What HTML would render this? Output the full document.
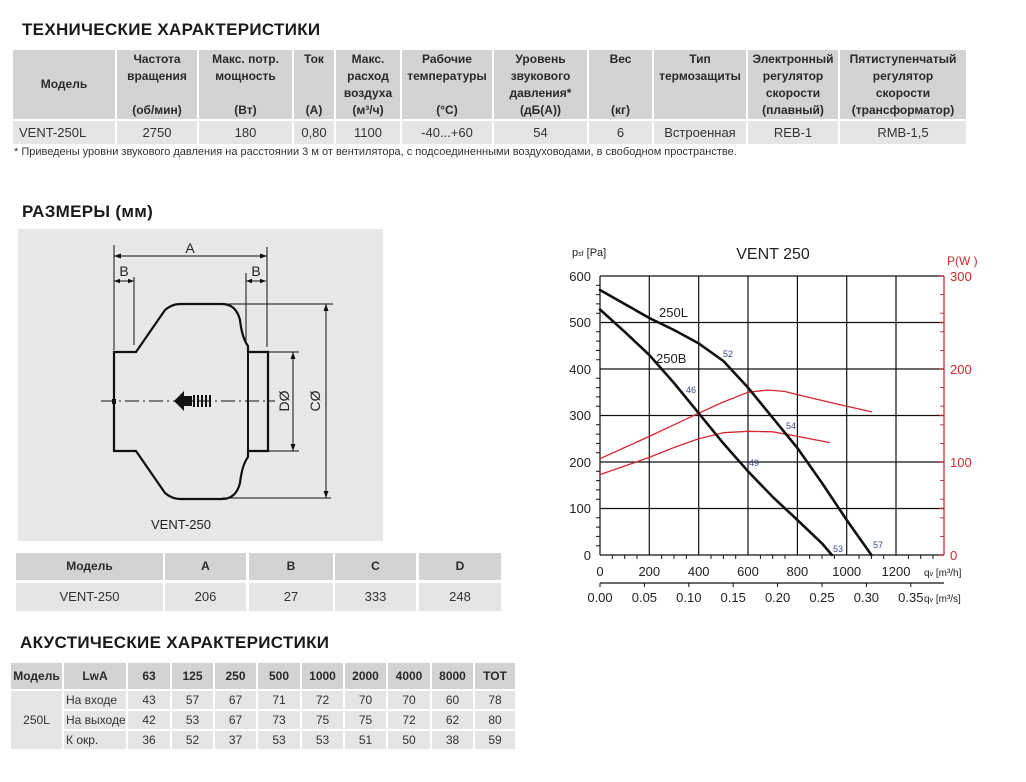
<!DOCTYPE html>
<html><head><meta charset="utf-8">
<style>
body{margin:0;width:1026px;height:782px;background:#fff;position:relative;overflow:hidden;font-family:"Liberation Sans","DejaVu Sans",sans-serif;color:#222}
.a{position:absolute;box-sizing:border-box}
.h{background:#d3d3d3;font-weight:bold;font-size:12px;text-align:center;line-height:17px;color:#2a2a2a}
.r{background:#e5e5e5;font-size:13px;text-align:center;color:#333}
.t{font-weight:bold;font-size:17px;color:#1a1a1a;letter-spacing:0.3px}
</style></head><body>
<div class="a t" style="left:22px;top:20px">ТЕХНИЧЕСКИЕ ХАРАКТЕРИСТИКИ</div>

<!-- top table -->
<div class="a h" style="left:13px;top:50px;width:102px;height:69px;line-height:69px">Модель</div>
<div class="a h" style="left:117px;top:50px;width:80px;height:69px;padding-top:1px">Частота<br>вращения<br>&nbsp;<br>(об/мин)</div>
<div class="a h" style="left:199px;top:50px;width:93px;height:69px;padding-top:1px">Макс. потр.<br>мощность<br>&nbsp;<br>(Вт)</div>
<div class="a h" style="left:294px;top:50px;width:40px;height:69px;padding-top:1px">Ток<br>&nbsp;<br>&nbsp;<br>(А)</div>
<div class="a h" style="left:336px;top:50px;width:64px;height:69px;padding-top:1px">Макс.<br>расход<br>воздуха<br>(м³/ч)</div>
<div class="a h" style="left:402px;top:50px;width:90px;height:69px;padding-top:1px">Рабочие<br>температуры<br>&nbsp;<br>(°С)</div>
<div class="a h" style="left:494px;top:50px;width:93px;height:69px;padding-top:1px">Уровень<br>звукового<br>давления*<br>(дБ(А))</div>
<div class="a h" style="left:589px;top:50px;width:63px;height:69px;padding-top:1px">Вес<br>&nbsp;<br>&nbsp;<br>(кг)</div>
<div class="a h" style="left:654px;top:50px;width:92px;height:69px;padding-top:1px">Тип<br>термозащиты<br>&nbsp;<br>&nbsp;</div>
<div class="a h" style="left:748px;top:50px;width:90px;height:69px;padding-top:1px">Электронный<br>регулятор<br>скорости<br>(плавный)</div>
<div class="a h" style="left:840px;top:50px;width:126px;height:69px;padding-top:1px">Пятиступенчатый<br>регулятор<br>скорости<br>(трансформатор)</div>

<div class="a r" style="left:13px;top:121px;width:102px;height:23px;line-height:23px;text-align:left;padding-left:6px">VENT-250L</div>
<div class="a r" style="left:117px;top:121px;width:80px;height:23px;line-height:23px">2750</div>
<div class="a r" style="left:199px;top:121px;width:93px;height:23px;line-height:23px">180</div>
<div class="a r" style="left:294px;top:121px;width:40px;height:23px;line-height:23px">0,80</div>
<div class="a r" style="left:336px;top:121px;width:64px;height:23px;line-height:23px">1100</div>
<div class="a r" style="left:402px;top:121px;width:90px;height:23px;line-height:23px">-40...+60</div>
<div class="a r" style="left:494px;top:121px;width:93px;height:23px;line-height:23px">54</div>
<div class="a r" style="left:589px;top:121px;width:63px;height:23px;line-height:23px">6</div>
<div class="a r" style="left:654px;top:121px;width:92px;height:23px;line-height:23px">Встроенная</div>
<div class="a r" style="left:748px;top:121px;width:90px;height:23px;line-height:23px">REB-1</div>
<div class="a r" style="left:840px;top:121px;width:126px;height:23px;line-height:23px">RMB-1,5</div>
<div class="a" style="left:14px;top:146px;font-size:11px;color:#333">* Приведены уровни звукового давления на расстоянии 3 м от вентилятора, с подсоединенными воздуховодами, в свободном пространстве.</div>

<div class="a t" style="left:22px;top:202px">РАЗМЕРЫ (мм)</div>

<!-- drawing -->
<div class="a" style="left:18px;top:229px;width:365px;height:312px;background:#e8e8e8"></div>
<svg class="a" style="left:0;top:0" width="400" height="545" viewBox="0 0 400 545">
<g fill="none" stroke="#111" stroke-width="1">
<path d="M114,352 H136 L165,310 Q172,304 180,304 H222 Q236,304 240,320 Q242,338 248,346 V352 H268 V451 H248 V457 Q242,465 240,483 Q236,499 222,499 H180 Q172,499 165,493 L136,451 H114 Z" stroke-width="2.2"/>
<line x1="248" y1="352" x2="248" y2="451" stroke-width="2"/>
<line x1="114" y1="245" x2="114" y2="350"/>
<line x1="267" y1="247" x2="267" y2="347"/>
<line x1="134" y1="277" x2="134" y2="345"/>
<line x1="246" y1="273" x2="246" y2="342"/>
<line x1="114" y1="256" x2="267" y2="256"/>
<line x1="114" y1="281" x2="134" y2="281"/>
<line x1="246" y1="281" x2="266" y2="281"/>
<line x1="222" y1="304" x2="333" y2="304"/>
<line x1="222" y1="498" x2="331" y2="498"/>
<line x1="326" y1="304" x2="326" y2="498"/>
<line x1="268" y1="352" x2="299" y2="352"/>
<line x1="268" y1="451" x2="299" y2="451"/>
<line x1="293" y1="352" x2="293" y2="451"/>
<line x1="101" y1="401" x2="275" y2="401" stroke-dasharray="14,4,2,4"/>
</g>
<g fill="#111">
<path d="M114,256 l7,-2.5 v5z M267,256 l-7,-2.5 v5z M114,281 l6,-2.2 v4.4z M134,281 l-6,-2.2 v4.4z M246,281 l6,-2.2 v4.4z M266,281 l-6,-2.2 v4.4z M326,304 l-2.5,7 h5z M326,498 l-2.5,-7 h5z M293,352 l-2.5,7 h5z M293,451 l-2.5,-7 h5z"/>
<path d="M174,401 L184,391 V396 H192 V406 H184 V411 Z"/>
<rect x="193" y="395" width="2" height="12"/><rect x="197" y="395" width="2" height="12"/><rect x="201" y="395" width="2" height="12"/><rect x="205" y="395" width="2" height="12"/><rect x="209" y="395" width="2" height="12"/>
<rect x="112" y="399" width="4" height="5"/>
</g>
<g font-family="Liberation Sans,sans-serif" font-size="14" fill="#222" text-anchor="middle">
<text x="190" y="253">A</text><text x="124" y="276">B</text><text x="256" y="276">B</text>
<text transform="translate(289,401) rotate(-90)">DØ</text>
<text transform="translate(320,401) rotate(-90)">CØ</text>
<text x="181" y="529" font-size="13">VENT-250</text>
</g>
</svg>

<!-- dim table -->
<div class="a h" style="left:16px;top:553px;width:147px;height:27px;line-height:27px">Модель</div>
<div class="a h" style="left:165px;top:553px;width:81px;height:27px;line-height:27px">A</div>
<div class="a h" style="left:249px;top:553px;width:84px;height:27px;line-height:27px">B</div>
<div class="a h" style="left:335px;top:553px;width:81px;height:27px;line-height:27px">C</div>
<div class="a h" style="left:419px;top:553px;width:82px;height:27px;line-height:27px">D</div>
<div class="a r" style="left:16px;top:583px;width:147px;height:28px;line-height:28px">VENT-250</div>
<div class="a r" style="left:165px;top:583px;width:81px;height:28px;line-height:28px">206</div>
<div class="a r" style="left:249px;top:583px;width:84px;height:28px;line-height:28px">27</div>
<div class="a r" style="left:335px;top:583px;width:81px;height:28px;line-height:28px">333</div>
<div class="a r" style="left:419px;top:583px;width:82px;height:28px;line-height:28px">248</div>

<div class="a t" style="left:20px;top:633px">АКУСТИЧЕСКИЕ ХАРАКТЕРИСТИКИ</div>
<!-- acoustic table -->
<div class="a h" style="left:11px;top:663px;width:51px;height:26px;line-height:26px">Модель</div>
<div class="a h" style="left:64px;top:663px;width:62px;height:26px;line-height:26px">LwA</div>
<div class="a h" style="left:128px;top:663px;width:42px;height:26px;line-height:26px">63</div>
<div class="a h" style="left:172px;top:663px;width:41px;height:26px;line-height:26px">125</div>
<div class="a h" style="left:215px;top:663px;width:41px;height:26px;line-height:26px">250</div>
<div class="a h" style="left:258px;top:663px;width:42px;height:26px;line-height:26px">500</div>
<div class="a h" style="left:302px;top:663px;width:41px;height:26px;line-height:26px">1000</div>
<div class="a h" style="left:345px;top:663px;width:41px;height:26px;line-height:26px">2000</div>
<div class="a h" style="left:388px;top:663px;width:42px;height:26px;line-height:26px">4000</div>
<div class="a h" style="left:432px;top:663px;width:41px;height:26px;line-height:26px">8000</div>
<div class="a h" style="left:475px;top:663px;width:40px;height:26px;line-height:26px">TOT</div>
<div class="a r" style="left:11px;top:691px;width:51px;height:58px;line-height:58px;font-size:12px">250L</div>

<div class="a r" style="left:64px;top:691px;width:62px;height:18px;line-height:18px;font-size:12px;text-align:left;padding-left:2px">На входе</div>
<div class="a r" style="left:64px;top:711px;width:62px;height:18px;line-height:18px;font-size:12px;text-align:left;padding-left:2px">На выходе</div>
<div class="a r" style="left:64px;top:731px;width:62px;height:18px;line-height:18px;font-size:12px;text-align:left;padding-left:2px">К окр.</div>

<div id="ac"></div>
<div class="a r" style="left:128px;top:691px;width:42px;height:18px;line-height:18px;font-size:12px">43</div>
<div class="a r" style="left:172px;top:691px;width:41px;height:18px;line-height:18px;font-size:12px">57</div>
<div class="a r" style="left:215px;top:691px;width:41px;height:18px;line-height:18px;font-size:12px">67</div>
<div class="a r" style="left:258px;top:691px;width:42px;height:18px;line-height:18px;font-size:12px">71</div>
<div class="a r" style="left:302px;top:691px;width:41px;height:18px;line-height:18px;font-size:12px">72</div>
<div class="a r" style="left:345px;top:691px;width:41px;height:18px;line-height:18px;font-size:12px">70</div>
<div class="a r" style="left:388px;top:691px;width:42px;height:18px;line-height:18px;font-size:12px">70</div>
<div class="a r" style="left:432px;top:691px;width:41px;height:18px;line-height:18px;font-size:12px">60</div>
<div class="a r" style="left:475px;top:691px;width:40px;height:18px;line-height:18px;font-size:12px">78</div>
<div class="a r" style="left:128px;top:711px;width:42px;height:18px;line-height:18px;font-size:12px">42</div>
<div class="a r" style="left:172px;top:711px;width:41px;height:18px;line-height:18px;font-size:12px">53</div>
<div class="a r" style="left:215px;top:711px;width:41px;height:18px;line-height:18px;font-size:12px">67</div>
<div class="a r" style="left:258px;top:711px;width:42px;height:18px;line-height:18px;font-size:12px">73</div>
<div class="a r" style="left:302px;top:711px;width:41px;height:18px;line-height:18px;font-size:12px">75</div>
<div class="a r" style="left:345px;top:711px;width:41px;height:18px;line-height:18px;font-size:12px">75</div>
<div class="a r" style="left:388px;top:711px;width:42px;height:18px;line-height:18px;font-size:12px">72</div>
<div class="a r" style="left:432px;top:711px;width:41px;height:18px;line-height:18px;font-size:12px">62</div>
<div class="a r" style="left:475px;top:711px;width:40px;height:18px;line-height:18px;font-size:12px">80</div>
<div class="a r" style="left:128px;top:731px;width:42px;height:18px;line-height:18px;font-size:12px">36</div>
<div class="a r" style="left:172px;top:731px;width:41px;height:18px;line-height:18px;font-size:12px">52</div>
<div class="a r" style="left:215px;top:731px;width:41px;height:18px;line-height:18px;font-size:12px">37</div>
<div class="a r" style="left:258px;top:731px;width:42px;height:18px;line-height:18px;font-size:12px">53</div>
<div class="a r" style="left:302px;top:731px;width:41px;height:18px;line-height:18px;font-size:12px">53</div>
<div class="a r" style="left:345px;top:731px;width:41px;height:18px;line-height:18px;font-size:12px">51</div>
<div class="a r" style="left:388px;top:731px;width:42px;height:18px;line-height:18px;font-size:12px">50</div>
<div class="a r" style="left:432px;top:731px;width:41px;height:18px;line-height:18px;font-size:12px">38</div>
<div class="a r" style="left:475px;top:731px;width:40px;height:18px;line-height:18px;font-size:12px">59</div>

<!-- chart -->
<svg class="a" style="left:540px;top:230px" width="460" height="390" viewBox="540 230 460 390" font-family="Liberation Sans,sans-serif">
<g stroke="#111" stroke-width="1.2">
<line x1="600" y1="276" x2="944" y2="276"/><line x1="600" y1="322.5" x2="944" y2="322.5"/>
<line x1="600" y1="369" x2="944" y2="369"/><line x1="600" y1="415.5" x2="944" y2="415.5"/>
<line x1="600" y1="462" x2="944" y2="462"/><line x1="600" y1="508.5" x2="944" y2="508.5"/>
<line x1="600" y1="555" x2="944" y2="555"/>
<line x1="600" y1="276" x2="600" y2="555"/><line x1="649.3" y1="276" x2="649.3" y2="555"/>
<line x1="698.7" y1="276" x2="698.7" y2="555"/><line x1="748" y1="276" x2="748" y2="555"/>
<line x1="797.4" y1="276" x2="797.4" y2="555"/><line x1="846.7" y1="276" x2="846.7" y2="555"/>
<line x1="896" y1="276" x2="896" y2="555"/>
<line x1="600" y1="583" x2="944" y2="583"/>
</g>
<g stroke="#111" stroke-width="1">
<path d="M596,285.3h4M596,294.6h4M596,303.9h4M596,313.2h4M596,331.8h4M596,341.1h4M596,350.4h4M596,359.7h4M596,378.3h4M596,387.6h4M596,396.9h4M596,406.2h4M596,424.8h4M596,434.1h4M596,443.4h4M596,452.7h4M596,471.3h4M596,480.6h4M596,489.9h4M596,499.2h4M596,517.8h4M596,527.1h4M596,536.4h4M596,545.7h4"/>
<path d="M612.3,555v4M624.7,555v4M637,555v4M661.7,555v4M674,555v4M686.3,555v4M711,555v4M723.4,555v4M735.7,555v4M760.4,555v4M772.7,555v4M785,555v4M809.7,555v4M822,555v4M834.4,555v4M859,555v4M871.4,555v4M883.7,555v4M908.4,555v4M920.7,555v4M933,555v4"/>
<path d="M600,583v4M644.4,583v4M688.8,583v4M733.2,583v4M777.6,583v4M822,583v4M866.4,583v4M910.8,583v4"/>
</g>
<g stroke="#c0202a" stroke-width="1.2">
<line x1="944" y1="276" x2="944" y2="555"/>
<path d="M939,276h5M939,322.5h5M939,369h5M939,415.5h5M939,462h5M939,508.5h5M939,555h5"/>
<path d="M940,294.6h4M940,313.2h4M940,331.8h4M940,350.4h4M940,387.6h4M940,406.2h4M940,424.8h4M940,443.4h4M940,480.6h4M940,499.2h4M940,517.8h4M940,536.4h4" stroke-width="0.9"/>
</g>
<g fill="none" stroke-linejoin="round" stroke-linecap="round">
<polyline stroke="#d8262e" stroke-width="1.3" points="600,458.7 624.7,447.5 649.3,436.4 674,424.8 698.7,413.2 723.4,402 748,392.3 767.8,390 785,391.5 797.4,394.6 822,400.5 846.7,406.2 871.4,411.8"/>
<polyline stroke="#d8262e" stroke-width="1.3" points="600,474.6 624.7,466 649.3,457.4 674,447.5 698.7,438.8 723.4,432.7 748,431.3 772.7,431.8 797.4,436.4 829.4,442.5"/>
<polyline stroke="#111" stroke-width="2.6" points="600,290 624.7,304 649.3,318 674,330 698.7,343.4 723.4,361 748,387.6 772.7,417.8 797.4,448 822,483 846.7,520 871.4,555"/>
<polyline stroke="#111" stroke-width="2.6" points="600,309.5 624.7,331.8 649.3,355 674,383 698.7,413.2 723.4,443.4 748,471.3 772.7,496.9 797.4,520 822,543.4 831.9,555"/>
</g>
<g font-size="13" fill="#222" text-anchor="end">
<text x="591" y="281">600</text><text x="591" y="327">500</text><text x="591" y="374">400</text>
<text x="591" y="420">300</text><text x="591" y="467">200</text><text x="591" y="513">100</text><text x="591" y="560">0</text>
</g>
<g font-size="13" fill="#d8262e">
<text x="950" y="281">300</text><text x="950" y="374">200</text><text x="950" y="467">100</text><text x="950" y="560">0</text>
<text x="947" y="265" font-size="12">P(W )</text>
</g>
<g font-size="13" fill="#222" text-anchor="middle">
<text x="600" y="576">0</text><text x="649.3" y="576">200</text><text x="698.7" y="576">400</text>
<text x="748" y="576">600</text><text x="797.4" y="576">800</text><text x="846.7" y="576">1000</text><text x="896" y="576">1200</text>
<text x="600" y="602">0.00</text><text x="644.4" y="602">0.05</text><text x="688.8" y="602">0.10</text><text x="733.2" y="602">0.15</text>
<text x="777.6" y="602">0.20</text><text x="822" y="602">0.25</text><text x="866.4" y="602">0.30</text><text x="910.8" y="602">0.35</text>
</g>
<text x="924" y="576" font-size="10" fill="#222">q<tspan font-size="7">v</tspan> [m³/h]</text>
<text x="924" y="602" font-size="10" fill="#222">q<tspan font-size="7">v</tspan> [m³/s]</text>
<text x="572" y="256" font-size="11" fill="#222">p<tspan font-size="7">sf</tspan> [Pa]</text>
<text x="773" y="259" font-size="16" fill="#222" text-anchor="middle">VENT 250</text>
<text x="659" y="317" font-size="13" fill="#222">250L</text>
<text x="656" y="363" font-size="13" fill="#222">250B</text>
<g font-size="9" fill="#3a4890">
<text x="723" y="357">52</text><text x="686" y="393">46</text><text x="786" y="429">54</text>
<text x="749" y="466">49</text><text x="833" y="552">53</text><text x="873" y="548">57</text>
</g>
</svg>
</body></html>
